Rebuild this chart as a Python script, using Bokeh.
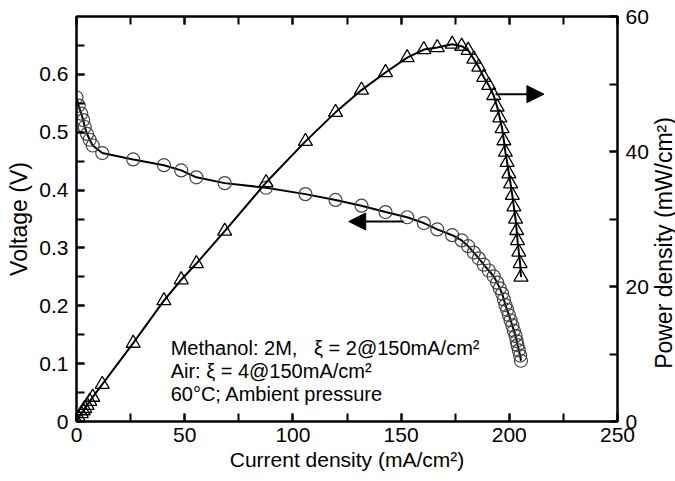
import math
from bokeh.plotting import figure
from bokeh.layouts import row
from bokeh.models import (Range1d, LinearAxis, SingleIntervalTicker, Label, Arrow,
                          NormalHead, ColumnDataSource)
from bokeh.embed import file_html
from bokeh.resources import INLINE

# ---- data ----
current = [0, 1.0, 2.2, 3.1, 3.8, 4.9, 6.1, 7.5, 11.9, 26.2, 40.4, 48.4, 55.4, 68.5,
           87.6, 105.8, 119.7, 131.7, 142.8, 152.8, 160.5, 166.7, 173.6, 178.0, 181.0,
           183.6, 185.9, 188.2, 190.5, 192.8, 194.4, 195.6, 196.7, 197.5, 198.2, 199.0,
           199.8, 200.6, 201.4, 202.1, 202.9, 203.4, 203.8, 204.4, 205.0, 205.4]
voltage = [0.560, 0.546, 0.532, 0.521, 0.509, 0.497, 0.487, 0.477, 0.464, 0.453, 0.443,
           0.434, 0.422, 0.412, 0.404, 0.393, 0.383, 0.373, 0.362, 0.353, 0.343, 0.332,
           0.322, 0.313, 0.303, 0.292, 0.282, 0.271, 0.261, 0.251, 0.240, 0.230, 0.221,
           0.211, 0.201, 0.193, 0.184, 0.175, 0.166, 0.157, 0.148, 0.139, 0.132, 0.123,
           0.114, 0.105]
power = [0, 0.55, 1.17, 1.6, 1.93, 2.4, 3.0, 3.6, 5.5, 11.6, 17.9, 21.0, 23.4, 28.2,
         35.4, 41.5, 45.8, 49.1, 51.7, 53.9, 55.1, 55.4, 55.9, 55.6, 55.0, 53.7, 52.5,
         51.0, 49.8, 48.3, 46.6, 45.0, 43.4, 41.6, 39.9, 38.4, 36.7, 35.2, 33.5, 31.8,
         30.0, 28.3, 26.8, 25.1, 23.4, 21.4]

NB = "\u00a0"
annotation_lines = ["Methanol: 2M," + NB * 3 + "\u03be = 2@150mA/cm\u00b2",
                    "Air: \u03be = 4@150mA/cm\u00b2",
                    "60\u00b0C; Ambient pressure"]
annotation_y = [0.127, 0.087, 0.048]

FONT = "Liberation Sans"

src = ColumnDataSource(dict(i=current, v=voltage, p=power))

p = figure(frame_width=541, frame_height=405, output_backend="svg",
           toolbar_location=None, x_range=Range1d(0, 250), y_range=Range1d(0, 0.7),
           min_border_left=76, min_border_right=32, min_border_top=16,
           min_border_bottom=60, x_axis_location=None, y_axis_location=None)
p.grid.visible = False
p.outline_line_color = "black"
p.outline_line_width = 2
p.background_fill_color = "white"
p.border_fill_color = "white"
p.extra_y_ranges = {"power": Range1d(0, 60)}


def style(ax, labels=True):
    ax.major_tick_in = 8
    ax.major_tick_out = 0
    ax.minor_tick_in = 8
    ax.minor_tick_out = 0
    ax.axis_line_width = 2
    ax.major_tick_line_width = 2
    ax.minor_tick_line_width = 2
    ax.major_label_text_font = FONT
    ax.major_label_text_font_size = "21px"
    ax.major_label_text_color = "black"
    ax.axis_label_text_font = FONT
    ax.axis_label_text_font_style = "normal"
    ax.axis_label_text_color = "black"
    ax.major_label_standoff = 8
    if not labels:
        ax.major_label_text_font_size = "0px"
        ax.major_label_text_alpha = 0


xb = LinearAxis(ticker=SingleIntervalTicker(interval=50, num_minor_ticks=2),
                axis_label="Current density (mA/cm\u00b2)")
style(xb)
xb.major_label_standoff = 6
xb.axis_label_text_font_size = "21px"
xb.axis_label_standoff = 3
p.add_layout(xb, "below")

xt = LinearAxis(ticker=SingleIntervalTicker(interval=50, num_minor_ticks=2))
style(xt, labels=False)
p.add_layout(xt, "above")

yl = LinearAxis(ticker=SingleIntervalTicker(interval=0.1, num_minor_ticks=2),
                axis_label="Voltage (V)")
style(yl)
yl.axis_label_text_font_size = "23px"
yl.axis_label_standoff = 4
p.add_layout(yl, "left")

yr = LinearAxis(y_range_name="power",
                ticker=SingleIntervalTicker(interval=20, num_minor_ticks=2))
style(yr)
p.add_layout(yr, "right")

# voltage curve
p.line("i", "v", source=src, line_color="black", line_width=2)
p.scatter("i", "v", source=src, marker="circle", size=13, fill_alpha=0,
          line_color="#444444", line_width=1.2)

# power curve
p.line("i", "p", source=src, line_color="black", line_width=2, y_range_name="power")
p.scatter("i", "p", source=src, marker="triangle", size=14, fill_alpha=0,
          line_color="black", line_width=1.3, y_range_name="power")

# arrows
p.add_layout(Arrow(end=NormalHead(size=17, fill_color="black", line_color="black"),
                   x_start=151.2, y_start=0.3457, x_end=125.8, y_end=0.3457,
                   line_width=2, line_color="black"))
p.add_layout(Arrow(end=NormalHead(size=17, fill_color="black", line_color="black"),
                   x_start=193.6, y_start=48.5, x_end=216.0, y_end=48.5,
                   line_width=2, line_color="black", y_range_name="power"))

for txt, yy in zip(annotation_lines, annotation_y):
    p.add_layout(Label(x=43.5, y=yy, text=txt, text_font=FONT, text_font_size="20px",
                       text_baseline="middle", text_align="left", text_color="black"))

# narrow strip holding the right-axis title (reads bottom-to-top as in the reference)
strip_w = 675 - 649
t = figure(width=strip_w, height=481, output_backend="svg", toolbar_location=None,
           x_range=Range1d(0, strip_w), y_range=Range1d(0, 481),
           min_border=0, x_axis_location=None, y_axis_location=None)
t.grid.visible = False
t.outline_line_color = None
t.background_fill_color = "white"
t.border_fill_color = "white"
t.add_layout(Label(x=12, y=212, text="Power density (mW/cm\u00b2)", angle=math.pi / 2,
                   text_font=FONT, text_font_size="23px", text_align="center",
                   text_baseline="middle", text_color="black"))

layout = row(p, t, spacing=0)
open("out.html", "w").write(file_html(layout, INLINE))
